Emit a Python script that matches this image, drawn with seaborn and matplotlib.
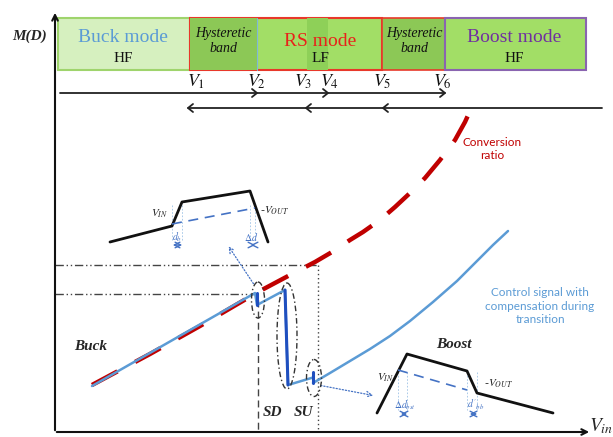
import numpy as np
import pandas as pd
import matplotlib
matplotlib.use("Agg")
import matplotlib.pyplot as plt
import seaborn as sns
from matplotlib.patches import Rectangle, Ellipse

sns.set_style("white")
plt.rcParams['font.family'] = ['DejaVu Sans']
plt.rcParams['mathtext.fontset'] = 'stix'

# ---- data (pixel-space schematic coordinates) ----
ratio_x = [92, 150, 200, 258, 290, 315, 332, 350, 363, 380, 395, 410, 425, 440, 455, 465, 475]
ratio_y = [385, 354, 326, 292, 275, 262, 252, 240, 232, 220, 207, 193, 178, 160, 140, 122, 100]

ctrl_x = [92, 255, 257, 285, 288, 313, 313]
ctrl_y = [386, 293, 305, 290, 385, 372, 383]
ctrl2_x = [313, 330, 350, 370, 390, 410, 433, 457, 477, 493, 508]
ctrl2_y = [383, 373, 361, 349, 336, 321, 302, 281, 261, 245, 231]

mode_names = ["Buck mode", "Hysteretic\nband", "RS mode", "Hysteretic\nband", "Boost mode"]
mode_freq = ["HF", "", "LF", "", "HF"]
v_labels = ["$V_1$", "$V_2$", "$V_3$", "$V_4$", "$V_5$", "$V_6$"]

fig = plt.figure(figsize=(6.13, 4.37), dpi=100)
ax = fig.add_axes([0, 0, 1, 1])

serif = 'Liberation Serif'

# ---- curves via seaborn ----
df_r = pd.DataFrame({'x': ratio_x, 'y': ratio_y})
sns.lineplot(data=df_r, x='x', y='y', ax=ax, sort=False, color='#c00000', lw=3.2,
             linestyle=(0, (6.5, 4.5)), zorder=4)
df_c = pd.DataFrame({'x': ctrl_x, 'y': ctrl_y})
sns.lineplot(data=df_c, x='x', y='y', ax=ax, sort=False, color='#5b9bd5', lw=1.8, zorder=5)
df_c2 = pd.DataFrame({'x': ctrl2_x, 'y': ctrl2_y})
sns.lineplot(data=df_c2, x='x', y='y', ax=ax, sort=False, color='#5b9bd5', lw=1.8, zorder=5)
for (x0, y0, x1, y1) in [(257, 293, 257, 305), (285, 290, 288, 385), (313, 372, 313, 383)]:
    ax.plot([x0, x1], [y0, y1], color='#1f4fbf', lw=2.2, zorder=6)

ax.set_xlim(0, 613)
ax.set_ylim(437, 0)
ax.set_xlabel('')
ax.set_ylabel('')
ax.axis('off')

# ---- mode boxes ----
top, h = 18, 52
ax.add_patch(Rectangle((58, top), 132, h, facecolor='#d6f0bf', edgecolor='#9fd46c', lw=1.5, zorder=1))
ax.add_patch(Rectangle((190, top), 192, h, facecolor='#a2de66', edgecolor='#e8382a', lw=1.5, zorder=2))
ax.add_patch(Rectangle((190, top), 67, h, facecolor='#8cc856', edgecolor='none', zorder=2))
ax.add_patch(Rectangle((307, top), 21, h, facecolor='#8ed058', edgecolor='none', zorder=2))
ax.add_patch(Rectangle((382, top), 63, h, facecolor='#8cc856', edgecolor='#e8382a', lw=1.2, zorder=2))
ax.add_patch(Rectangle((445, top), 141, h, facecolor='#a2de66', edgecolor='#8a64b0', lw=1.5, zorder=2))
ax.plot([257, 257], [top, top + h], color='#7fb8d8', lw=0.8, zorder=3)

ax.text(123, 38, mode_names[0], color='#5b9bd5', fontsize=14, family=serif, ha='center', va='center', zorder=5)
ax.text(123, 58, mode_freq[0], color='#111111', fontsize=11, family=serif, ha='center', va='center', zorder=5)
ax.text(223, 41, mode_names[1], color='#111111', fontsize=10, family=serif, style='italic', ha='center', va='center', linespacing=1.2, zorder=5)
ax.text(320, 42, mode_names[2], color='#e8221a', fontsize=14, family=serif, ha='center', va='center', zorder=5)
ax.text(320, 58, mode_freq[2], color='#111111', fontsize=11, family=serif, ha='center', va='center', zorder=5)
ax.text(414, 41, mode_names[3], color='#111111', fontsize=10, family=serif, style='italic', ha='center', va='center', linespacing=1.2, zorder=5)
ax.text(514, 37, mode_names[4], color='#7030a0', fontsize=14, family=serif, ha='center', va='center', zorder=5)
ax.text(514, 58, mode_freq[4], color='#111111', fontsize=11, family=serif, ha='center', va='center', zorder=5)

# ---- V labels ----
v_x = [196, 257, 303, 330, 382, 442]
for vx, lab in zip(v_x, v_labels):
    ax.text(vx, 82, lab, fontsize=13, ha='center', va='center', color='#111111')

# ---- hysteresis arrows ----
ax.plot([60, 445], [93, 93], color='#222222', lw=1.3)
for xa in [257, 328, 445]:
    ax.plot([xa - 5, xa, xa - 5], [89, 93, 97], color='#222222', lw=1.3)
ax.plot([188, 602], [108, 108], color='#222222', lw=1.3)
for xa in [188, 306, 383]:
    ax.plot([xa + 5, xa, xa + 5], [104, 108, 112], color='#222222', lw=1.3)

# ---- axes ----
ax.annotate('', xy=(55, 10), xytext=(55, 433), arrowprops=dict(arrowstyle='->', color='#111111', lw=1.5))
ax.annotate('', xy=(592, 432), xytext=(54, 432), arrowprops=dict(arrowstyle='->', color='#111111', lw=1.5))
ax.text(30, 36, 'M(D)', fontsize=11, family=serif, weight='bold', style='italic', ha='center', va='center')
ax.text(601, 426, r'$\boldsymbol{V_{in}}$', fontsize=14, ha='center', va='center')

# ---- guide lines ----
ax.plot([55, 318], [265, 265], color='#444444', lw=1, ls=(0, (6, 2, 1, 2, 1, 2)))
ax.plot([55, 257], [294, 294], color='#444444', lw=1, ls=(0, (6, 2, 1, 2, 1, 2)))
ax.plot([318, 318], [265, 432], color='#444444', lw=1, ls=(0, (1, 2)))
ax.plot([258, 258], [300, 432], color='#444444', lw=1, ls=(0, (5, 3)))

# ---- ellipses ----
for (cx, cy, w, hh) in [(258, 300, 13, 36), (287, 336, 20, 106), (314, 378, 15, 37)]:
    ax.add_patch(Ellipse((cx, cy), w, hh, fill=False, edgecolor='#333333', lw=1, ls=(0, (4, 2, 1, 2)), zorder=7))

ax.text(272, 413, 'SD', fontsize=11, family=serif, weight='bold', style='italic', ha='center', va='center')
ax.text(303, 413, 'SU', fontsize=11, family=serif, weight='bold', style='italic', ha='center', va='center')
ax.text(91, 347, 'Buck', fontsize=11, family=serif, weight='bold', style='italic', ha='center', va='center')
ax.text(454, 345, 'Boost', fontsize=11, family=serif, weight='bold', style='italic', ha='center', va='center')

ax.text(492, 149, 'Conversion\nratio', fontsize=8.5, family='Lato', color='#c00000', ha='center', va='center', linespacing=1.3)
ax.text(540, 306, 'Control signal with\ncompensation during\ntransition', fontsize=8.5, family='Lato',
        color='#5b9bd5', ha='center', va='center', linespacing=1.3)

# ---- buck inset ----
ax.plot([110, 172, 182, 250, 268], [242, 226, 202, 191, 242], color='#111111', lw=2, zorder=6)
ax.plot([172, 255], [224, 208], color='#4472c4', lw=1.2, ls=(0, (6, 4)), zorder=6)
for xv in [172, 182, 250, 255]:
    ax.plot([xv, xv], [205, 240], color='#9dc3e6', lw=0.6, ls=(0, (2, 2)))
ax.text(160, 214, '$V_{IN}$', fontsize=8, ha='center', va='center', color='#222222')
ax.text(274, 211, '-$V_{OUT}$', fontsize=8, ha='center', va='center', color='#222222')
ax.text(177, 237, '$d_b$', fontsize=7, color='#4472c4', ha='center', va='center')
ax.text(251, 237, r'$\Delta d$', fontsize=7, color='#4472c4', ha='center', va='center')
ax.annotate('', xy=(170, 245), xytext=(185, 245), arrowprops=dict(arrowstyle='<->', color='#4472c4', lw=1))
ax.annotate('', xy=(248, 245), xytext=(258, 245), arrowprops=dict(arrowstyle='<->', color='#4472c4', lw=1))
ax.annotate('', xy=(227, 244), xytext=(255, 286),
            arrowprops=dict(arrowstyle='->', color='#4472c4', lw=0.9, ls=(0, (1, 1.5))))

# ---- boost inset ----
ax.plot([377, 407, 467, 477, 553], [413, 354, 371, 393, 413], color='#111111', lw=2, zorder=6)
ax.plot([398, 467], [370, 390], color='#4472c4', lw=1.2, ls=(0, (6, 4)), zorder=6)
for xv in [398, 407, 467, 477]:
    ax.plot([xv, xv], [372, 410], color='#9dc3e6', lw=0.6, ls=(0, (2, 2)))
ax.text(386, 378, '$V_{IN}$', fontsize=8, ha='center', va='center', color='#222222')
ax.text(498, 384, '-$V_{OUT}$', fontsize=8, ha='center', va='center', color='#222222')
ax.text(405, 405, r'$\Delta d_{bst}$', fontsize=7, color='#4472c4', ha='center', va='center')
ax.text(476, 405, "$d'_{bb}$", fontsize=7, color='#4472c4', ha='center', va='center')
ax.annotate('', xy=(398, 414), xytext=(410, 414), arrowprops=dict(arrowstyle='<->', color='#4472c4', lw=1))
ax.annotate('', xy=(467, 414), xytext=(480, 414), arrowprops=dict(arrowstyle='<->', color='#4472c4', lw=1))
ax.annotate('', xy=(376, 396), xytext=(318, 385),
            arrowprops=dict(arrowstyle='->', color='#4472c4', lw=0.9, ls=(0, (1, 1.5))))

fig.savefig('out.png', dpi=100)
